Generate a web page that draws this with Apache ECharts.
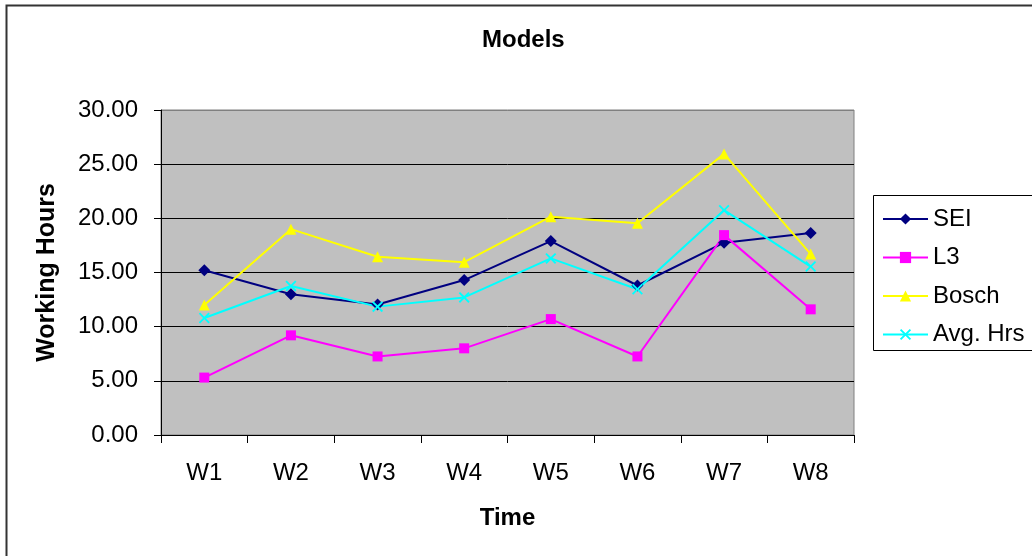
<!DOCTYPE html>
<html>
<head>
<meta charset="utf-8">
<script src="https://cdn.jsdelivr.net/npm/echarts@6/dist/echarts.min.js"></script>
<style>
html,body{margin:0;padding:0;background:#fff;}
#chart{width:1032px;height:556px;}
</style>
</head>
<body>
<div id="chart"></div>
<script>
const categories = ['W1','W2','W3','W4','W5','W6','W7','W8'];
const seiValues   = [15.2, 13.0, 12.05, 14.3, 17.9, 13.8, 17.75, 18.65];
const l3Values    = [5.3, 9.2, 7.25, 8.0, 10.7, 7.25, 18.45, 11.6];
const boschValues = [12.0, 19.0, 16.45, 15.95, 20.15, 19.55, 25.95, 16.7];
const avgValues   = [10.8, 13.75, 11.85, 12.7, 16.3, 13.45, 20.75, 15.55];
const seriesNames = ['SEI','L3','Bosch','Avg. Hrs'];
const yTicks = [0, 5, 10, 15, 20, 25, 30];

const FONT = '"Liberation Sans", Arial, sans-serif';
const xSymbol = 'path://M0,1.2L1.2,0L5,3.8L8.8,0L10,1.2L6.2,5L10,8.8L8.8,10L5,6.2L1.2,10L0,8.8L3.8,5Z';

const chart = echarts.init(document.getElementById('chart'), null, {renderer:'canvas'});

function mkSeries(name, data, color, symbol, size){
  return {
    name: name, type: 'line', data: data,
    symbol: symbol, symbolSize: size,
    lineStyle: {color: color, width: 2},
    itemStyle: {color: color, borderWidth: 0},
    emphasis: {disabled: true},
    animation: false
  };
}

chart.setOption({
  animation: false,
  backgroundColor: '#ffffff',
  graphic: [{
    type: 'rect', left: 4, top: 3, z: -10,
    shape: {x: 0, y: 0, width: 1100, height: 700},
    style: {fill: 'none', stroke: '#333333', lineWidth: 2}
  }, {
    type: 'polyline', z: 10, silent: true,
    shape: {points: [[1040, 195.5], [873.5, 195.5], [873.5, 350.5], [1040, 350.5]]},
    style: {fill: 'none', stroke: '#000', lineWidth: 1}
  }],
  title: {
    text: 'Models', left: 477, top: 23,
    textStyle: {fontFamily: FONT, fontSize: 24, fontWeight: 'bold', color: '#000'}
  },
  legend: {
    orient: 'vertical', left: 873, top: 195,
    padding: [12, 10, 8, 9],
    itemWidth: 45, itemHeight: 14, itemGap: 14.5,
    textStyle: {fontFamily: FONT, fontSize: 24, color: '#000', lineHeight: 24},
    data: seriesNames
  },
  grid: {
    left: 161, top: 110, right: 178, bottom: 121,
    show: true, backgroundColor: '#C0C0C0', borderColor: '#808080', borderWidth: 1
  },
  xAxis: {
    type: 'category', data: categories, boundaryGap: true,
    name: 'Time', nameLocation: 'middle', nameGap: 71,
    nameTextStyle: {fontFamily: FONT, fontSize: 24, fontWeight: 'bold', color: '#000'},
    axisLine: {lineStyle: {color: '#000', width: 1}},
    axisTick: {show: true, length: 8, lineStyle: {color: '#000'}},
    axisLabel: {fontFamily: FONT, fontSize: 24, color: '#000', margin: 26},
    splitLine: {show: false}
  },
  yAxis: {
    type: 'value', min: yTicks[0], max: yTicks[yTicks.length-1], interval: 5,
    name: 'Working Hours', nameLocation: 'middle', nameGap: 101, nameRotate: 90,
    nameTextStyle: {fontFamily: FONT, fontSize: 25, fontWeight: 'bold', color: '#000'},
    axisLine: {show: true, lineStyle: {color: '#000', width: 1}},
    axisTick: {show: true, length: 7, lineStyle: {color: '#000'}},
    axisLabel: {fontFamily: FONT, fontSize: 24, color: '#000', margin: 23,
      formatter: v => v.toFixed(2)},
    splitLine: {show: true, lineStyle: {color: ['#000','#000','#000','#000','#000','#000','#808080'], width: 1}}
  },
  series: [
    mkSeries(seriesNames[0], seiValues, '#000080', 'diamond', 12),
    mkSeries(seriesNames[1], l3Values, '#FF00FF', 'rect', 10),
    mkSeries(seriesNames[2], boschValues, '#FFFF00', 'triangle', 11),
    mkSeries(seriesNames[3], avgValues, '#00FFFF', xSymbol, 11)
  ]
});
</script>
</body>
</html>
